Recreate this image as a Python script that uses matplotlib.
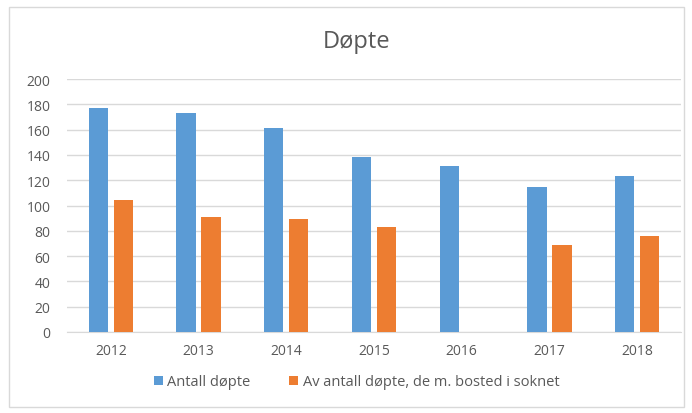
import matplotlib.pyplot as plt
import matplotlib.patches as mpatches
import numpy as np

# Data
years = ['2012', '2013', '2014', '2015', '2016', '2017', '2018']
antall_dopte = [177, 173, 161, 138, 131, 115, 123]
bosted_soknet = [104, 91, 89, 83, np.nan, 69, 76]
series_names = ['Antall døpte', 'Av antall døpte, de m. bosted i soknet']

BLUE = '#5B9BD5'
ORANGE = '#ED7D31'
GRID = '#D9D9D9'
TEXT = '#595959'

plt.rcParams['font.family'] = ['Open Sans', 'DejaVu Sans']

fig = plt.figure(figsize=(6.92, 4.14), dpi=100)
ax = fig.add_axes([67 / 692, 1 - 333 / 414, 614 / 692, 253 / 414])

# chart frame
fig.patches.append(mpatches.Rectangle((9 / 692, 1 - 408 / 414), 675 / 692, 400 / 414,
                                      transform=fig.transFigure, fill=False,
                                      edgecolor=GRID, linewidth=1))

x = np.arange(len(years))
w = 0.221
off = 0.1425
ax.bar(x - off, antall_dopte, width=w, color=BLUE, label=series_names[0], zorder=3)
ax.bar(x + off, bosted_soknet, width=w, color=ORANGE, label=series_names[1], zorder=3)

ax.set_xlim(-0.5, len(years) - 0.5)
ax.set_ylim(0, 200)
ax.set_yticks(range(0, 201, 20))
ax.set_xticks(x)
ax.set_xticklabels(years)
ax.yaxis.grid(True, color=GRID, linewidth=1, zorder=0)
ax.set_axisbelow(True)
for s in ['top', 'right', 'left']:
    ax.spines[s].set_visible(False)
ax.spines['bottom'].set_color(GRID)
ax.tick_params(axis='both', length=0, labelsize=10, colors=TEXT)
ax.tick_params(axis='y', pad=12)
ax.tick_params(axis='x', pad=8)

fig.text(0.515, 1 - 42 / 414, 'Døpte', ha='center', va='center', fontsize=17, color=TEXT)

fig.legend(loc='center', bbox_to_anchor=(0.515, 1 - 383 / 414), ncol=2, frameon=False,
           fontsize=10.5, labelcolor=TEXT, handlelength=0.65, handleheight=0.65,
           handletextpad=0.3, columnspacing=2.6)

fig.savefig('out.png', dpi=100)
